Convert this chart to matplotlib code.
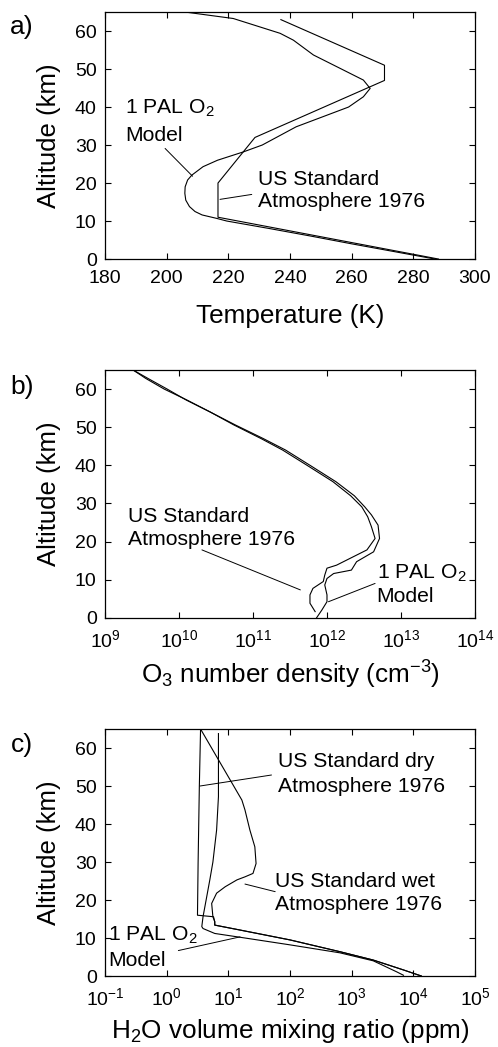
import numpy as np
from matplotlib import pyplot as plt
from matplotlib.ticker import FixedLocator, FuncFormatter

plt.rcParams["font.family"] = ["Liberation Sans", "DejaVu Sans"]
plt.rcParams["mathtext.fontset"] = "custom"
plt.rcParams["mathtext.rm"] = "Liberation Sans"
plt.rcParams["mathtext.it"] = "Liberation Sans"

# a) temperature profiles
alt_a_model = [0, 2, 4, 6, 8, 9, 10, 10.7, 11.6, 12.5, 13.8, 15.5, 17.3, 19, 20.8, 22.1,
               24.3, 26, 28.2, 30, 34.8, 40, 42.7, 44.9, 47.1, 50.2, 53.7, 57.6, 59.4, 63.3, 65]
temp_model = [287, 273.5, 260, 247, 233.5, 226.5, 219.5, 216.2, 211.5, 209.2, 207.4, 206.2,
              205.9, 206.0, 206.8, 208.2, 211.8, 216.5, 224.9, 231, 242, 259, 263.8, 266,
              263.8, 256.2, 247.6, 241.1, 236.8, 221.6, 206]
alt_a_us = [0, 11, 20, 32, 47, 51, 63]
temp_us = [288.15, 216.65, 216.65, 228.65, 270.65, 270.65, 237.05]

# b) ozone number density (log10 cm-3)
alt_b_model = [0, 2.0, 4.2, 6.0, 8.6, 10.3, 11.6, 12.5, 14.7, 17.3, 20.8, 24.3, 27, 29.1,
               32, 35.7, 40, 44, 47, 50.6, 54, 57.1, 60, 62.8, 65]
o3_model = [11.86, 11.93, 12.0, 12.0, 11.97, 12.0, 12.09, 12.33, 12.40, 12.63, 12.71, 12.69,
            12.60, 12.51, 12.37, 12.12, 11.77, 11.44, 11.14, 10.76, 10.42, 10.10, 9.84,
            9.58, 9.38]
alt_b_us = [1.6, 3.8, 6.0, 7.7, 9.5, 11.2, 13.0, 13.8, 17.8, 20.8, 23.9, 26.5, 29.1, 32,
            35.7, 40, 44, 47, 50.6, 54, 57.1, 60, 62.8, 65]
o3_us = [11.84, 11.77, 11.77, 11.81, 11.95, 11.97, 12.0, 12.13, 12.54, 12.65, 12.60, 12.55,
         12.47, 12.32, 12.08, 11.73, 11.40, 11.11, 10.74, 10.42, 10.11, 9.80, 9.55, 9.38]

# c) water vapour (log10 ppm)
alt_c_model = [0.2, 1.1, 4.0, 6.1, 8.2, 10.2, 11.2, 12.5, 13.0, 15.6, 20, 25.3, 30, 38.4,
               47.2, 63.8]
h2o_model = [3.84, 3.73, 3.35, 2.81, 2.0, 1.19, 0.78, 0.59, 0.57, 0.59, 0.64, 0.70, 0.75,
             0.81, 0.84, 0.84]
alt_c_wet = [0, 1.6, 4.2, 6.4, 9.5, 12.1, 13.4, 14.3, 15.6, 19.1, 21.8, 23.5, 25.3, 26.1,
             27.0, 29.6, 34.0, 38.4, 43.7, 46.3, 65]
h2o_wet = [4.13, 3.84, 3.35, 2.81, 2.0, 1.19, 0.78, 0.78, 0.75, 0.73, 0.81, 0.95, 1.14, 1.27,
           1.40, 1.45, 1.43, 1.35, 1.27, 1.22, 0.55]
alt_c_dry = [0, 1.6, 4.2, 6.4, 9.5, 12.1, 13.4, 14.3, 15.6, 16.0, 29.7, 49.8, 65]
h2o_dry = [4.13, 3.84, 3.35, 2.81, 2.0, 1.19, 0.78, 0.78, 0.76, 0.50, 0.51, 0.53, 0.55]

# annotations: (text, x, y) and leader lines (x0, y0, x1, y1)
notes_a = [("1 PAL O$_\\mathregular{2}$", 186.5, 39.7), ("Model", 186.5, 32.4),
           ("US Standard", 229.7, 21.0), ("Atmosphere 1976", 229.7, 15.1)]
leaders_a = [(199.5, 29.1, 208.4, 21.8), (227.6, 17.0, 217.3, 15.7)]
notes_b = [("US Standard", 10 ** 9.315, 26.5), ("Atmosphere 1976", 10 ** 9.315, 20.4),
           ("1 PAL O$_\\mathregular{2}$", 10 ** 12.67, 11.6), ("Model", 10 ** 12.67, 5.5)]
leaders_b = [(10 ** 10.31, 17.8, 10 ** 11.64, 7.3), (10 ** 12.65, 9.0, 10 ** 12.02, 4.2)]
notes_c = [("US Standard dry", 10 ** 1.81, 56.4), ("Atmosphere 1976", 10 ** 1.81, 50.0),
           ("US Standard wet", 10 ** 1.76, 24.8), ("Atmosphere 1976", 10 ** 1.76, 18.7),
           ("1 PAL O$_\\mathregular{2}$", 10 ** -0.95, 10.8), ("Model", 10 ** -0.95, 4.2)]
leaders_c = [(10 ** 1.70, 52.9, 10 ** 0.54, 50.0), (10 ** 1.76, 22.2, 10 ** 1.27, 24.2),
             (10 ** 0.19, 6.7, 10 ** 1.19, 10.3)]

fig = plt.figure(figsize=(4.98, 10.47), dpi=100)
ax_a = fig.add_axes([0.2108, 0.7526, 0.743, 0.2359])
ax_b = fig.add_axes([0.2108, 0.4100, 0.743, 0.2366])
ax_c = fig.add_axes([0.2108, 0.0678, 0.743, 0.2359])

lw = 0.8
ax_a.plot(temp_model, alt_a_model, color="k", lw=lw)
ax_a.plot(temp_us, alt_a_us, color="k", lw=lw)
ax_b.plot(10 ** np.array(o3_model), alt_b_model, color="k", lw=lw)
ax_b.plot(10 ** np.array(o3_us), alt_b_us, color="k", lw=lw)
ax_c.plot(10 ** np.array(h2o_model), alt_c_model, color="k", lw=lw)
ax_c.plot(10 ** np.array(h2o_wet), alt_c_wet, color="k", lw=lw)
ax_c.plot(10 ** np.array(h2o_dry), alt_c_dry, color="k", lw=lw)

ax_a.set_xlim(180, 300)
ax_a.set_xticks(np.arange(180, 301, 20))
ax_b.set_xscale("log")
ax_b.set_xlim(1e9, 1e14)
ax_c.set_xscale("log")
ax_c.set_xlim(1e-1, 1e5)

pow_fmt = FuncFormatter(lambda v, p: "$\\mathregular{10^{%d}}$" % round(np.log10(v)))
ax_b.xaxis.set_major_locator(FixedLocator([10.0 ** k for k in range(9, 15)]))
ax_c.xaxis.set_major_locator(FixedLocator([10.0 ** k for k in range(-1, 6)]))
for ax in (ax_b, ax_c):
    ax.xaxis.set_major_formatter(pow_fmt)
    ax.xaxis.set_minor_locator(FixedLocator([]))

for ax, notes, leaders in ((ax_a, notes_a, leaders_a), (ax_b, notes_b, leaders_b),
                           (ax_c, notes_c, leaders_c)):
    ax.set_ylim(0, 65)
    ax.set_yticks(np.arange(0, 61, 10))
    ax.tick_params(direction="in", top=True, right=True, length=4, width=0.8,
                   labelsize=14)
    ax.tick_params(axis="y", pad=6)
    ax.tick_params(axis="x", pad=8)
    for s in ax.spines.values():
        s.set_linewidth(0.9)
    ax.set_ylabel("Altitude (km)", fontsize=18.5, labelpad=10)
    for t, x, y in notes:
        ax.text(x, y, t, fontsize=15.2, ha="left", va="center")
    for x0, y0, x1, y1 in leaders:
        ax.annotate("", xy=(x1, y1), xytext=(x0, y0),
                    arrowprops=dict(arrowstyle="-", lw=0.7, color="k",
                                    shrinkA=0, shrinkB=0))

ax_a.set_xlabel("Temperature (K)", fontsize=18.8, labelpad=12)
ax_b.set_xlabel("O$_\\mathregular{3}$ number density (cm$^\\mathregular{-3}$)",
                fontsize=18.8, labelpad=6)
ax_c.set_xlabel("H$_\\mathregular{2}$O volume mixing ratio (ppm)", fontsize=18.8, labelpad=6)

for lab, y in (("a)", 27), ("b)", 387), ("c)", 745)):
    fig.text(22 / 498, 1 - y / 1047, lab, fontsize=19, ha="center", va="center")

fig.savefig("out.png", dpi=100)
